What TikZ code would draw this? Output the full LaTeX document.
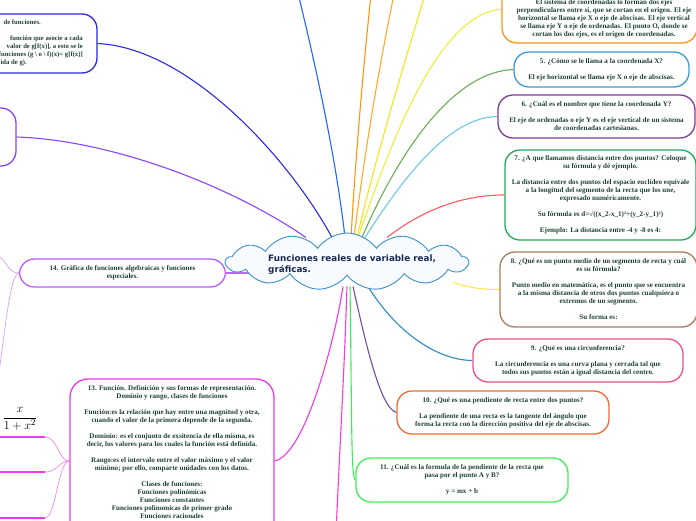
\documentclass[tikz,border=0pt]{standalone}
\usepackage{fontspec}
\setmainfont{Liberation Serif}
\newfontfamily\titlefnt{DejaVu Sans}
\usetikzlibrary{shapes.symbols,calc,backgrounds}
\definecolor{txtc}{HTML}{1F4035}
\definecolor{titc}{HTML}{1B2A55}
\definecolor{cloudb}{HTML}{3A8FCB}
\definecolor{cloudf}{HTML}{F7FBFF}
\definecolor{bComp}{HTML}{2B2BE0}
\definecolor{bViol}{HTML}{8A44FF}
\definecolor{cBlue}{HTML}{2466FF}
\definecolor{cOrA}{HTML}{FF9411}
\definecolor{cOrB}{HTML}{FFAA2B}
\definecolor{cYelA}{HTML}{F5E51A}
\definecolor{cYelB}{HTML}{EEEE3A}
\definecolor{cGrnV}{HTML}{6AAE55}
\definecolor{cLbVI}{HTML}{6DC8EE}
\definecolor{cRedVII}{HTML}{FF5A64}
\definecolor{cYelVIII}{HTML}{FFE94A}
\definecolor{cBluIX}{HTML}{2B8AC9}
\definecolor{cPurX}{HTML}{7A4A9C}
\definecolor{cGrnXI}{HTML}{3AEE55}
\definecolor{cMagXII}{HTML}{FF3ACF}
\definecolor{cMagXIII}{HTML}{EE3AEE}
\definecolor{cVioXIV}{HTML}{C066FF}
\definecolor{bIV}{HTML}{F7941D}
\definecolor{bV}{HTML}{3D9BD4}
\definecolor{bVI}{HTML}{7B3F99}
\definecolor{bVII}{HTML}{1FAA55}
\definecolor{bVIII}{HTML}{A97C5C}
\definecolor{bIX}{HTML}{E8508B}
\definecolor{bX}{HTML}{EE6A3A}
\definecolor{bXI}{HTML}{3CF058}
\definecolor{bXIII}{HTML}{EE3AEE}
\definecolor{bXIV}{HTML}{BD5CFF}
\definecolor{kidXIV}{HTML}{D9A0FF}
\definecolor{kidXIII}{HTML}{F08CF0}
\newcommand\bodyfnt{\bfseries\fontsize{7.1}{8}\selectfont}
\newcommand\compfnt{\bfseries\fontsize{6.7}{8}\selectfont}
\tikzset{
  nbox/.style={draw, line width=1.3pt, rounded corners=15pt, fill=white, inner sep=0pt,
    align=center, font=\bodyfnt, text=txtc},
  btxt/.style={inner sep=0pt, font=\bodyfnt, text=txtc},
  conn/.style={line width=1.1pt},
  kid/.style={line width=0.7pt},
  uline/.style={line width=2pt, cMagXIII},
}
\begin{document}
\begin{tikzpicture}[x=1pt,y=-1pt]
\useasboundingbox (0,0) rectangle (696,520);

% central cloud
\node[cloud, cloud puffs=13, cloud puff arc=110, aspect=4.2, draw=cloudb, fill=cloudf,
      line width=0.9pt, minimum width=242pt, minimum height=57pt, inner sep=0pt] (root) at (347,261.5) {};
\node[font=\titlefnt\bfseries\fontsize{8.8}{11}\selectfont, text=titc, align=left, anchor=west, inner sep=0pt]
  (title) at (268,264.5) {Funciones reales de variable real,\\gráficas.};

% top-left nodes (partly outside)
\node[nbox, draw=bComp, minimum width=202pt, minimum height=59pt] (comp) at (-4,43.5) {};
\node[btxt, font=\compfnt, align=right, anchor=east] (compt) at (83,42.5)
  {de funciones.\hspace*{42pt}\\[8pt]función que asocie a cada\hspace*{15pt}\\valor de g[f(x)], a esto se le\\funciones (g \textbackslash{} o \textbackslash{} f)(x)= g[f(x)]\\ida de g).\hspace*{56pt}};
\node[nbox, draw=bViol, minimum width=116pt, minimum height=58pt] (viol) at (-42,137) {};

% right side nodes
\node[nbox, draw=bIV, minimum width=195pt, minimum height=68pt] (n4) at (599.5,9) {};
\node[btxt, align=center] (n4t) at (604,19)
  {El sistema de coordenadas lo forman dos ejes\\perpendiculares entre sí, que se cortan en el origen. El eje\\horizontal se llama eje X o eje de abscisas. El eje vertical\\se llama eje Y o eje de ordenadas. El punto O, donde se\\cortan los dos ejes, es el origen de coordenadas.};

\node[nbox, draw=bV, minimum width=175pt, minimum height=35pt] (n5) at (601.5,69.5)
  {5. ¿Cómo se le llama a la coordenada X?\\[8pt]El eje horizontal se llama eje X o eje de abscisas.};

\node[nbox, draw=bVI, minimum width=197pt, minimum height=43pt] (n6) at (596.5,116.5)
  {6. ¿Cuál es el nombre que tiene la coordenada Y?\\[8pt]El eje de ordenadas o eje Y es el eje vertical de un sistema\\de coordenadas cartesianas.};

\node[nbox, draw=bVII, minimum width=191pt, minimum height=90pt] (n7) at (600.5,195)
  {7. ¿A que llamamos distancia entre dos puntos? Coloque\\su fórmula y dé ejemplo.\\[8pt]La distancia entre dos puntos del espacio euclídeo equivale\\a la longitud del segmento de la recta que los une,\\expresado numéricamente.\\[8pt]Su fórmula es d=√((x\_2-x\_1)²+(y\_2-y\_1)²)\\[8pt]Ejemplo: La distancia entre -4 y -8 es 4:};

\node[nbox, draw=bVIII, minimum width=197pt, minimum height=75pt] (n8) at (598.5,289.5)
  {8. ¿Qué es un punto medio de un segmento de recta y cuál\\es su fórmula?\\[8pt]Punto medio en matemática, es el punto que se encuentra\\a la misma distancia de otros dos puntos cualquiera o\\extremos de un segmento.\\[8pt]Su forma es:};

\node[nbox, draw=bIX, minimum width=210pt, minimum height=43pt] (n9) at (578,360.5)
  {9. ¿Qué es una circunferencia?\\[8pt]La circunferencia es una curva plana y cerrada tal que\\todos sus puntos están a igual distancia del centro.};

\node[nbox, draw=bX, minimum width=212pt, minimum height=43pt] (n10) at (503,412.5)
  {10. ¿Qué es una pendiente de recta entre dos puntos?\\[8pt]La pendiente de una recta es la tangente del ángulo que\\forma la recta con la dirección positiva del eje de abscisas.};

\node[nbox, draw=bXI, minimum width=212pt, minimum height=44pt] (n11) at (462,480)
  {11. ¿Cuál es la formula de la pendiente de la recta que\\pasa por el punto A y B?\\[8pt]y = mx + b};

% left side nodes
\node[nbox, draw=bXIV, minimum width=206pt, minimum height=28pt] (n14) at (122.5,273)
  {14. Gráfica de funciones algebraicas y funciones\\especiales.};

\node[nbox, draw=bXIII, rounded corners=18pt, minimum width=204pt, minimum height=164pt] (n13) at (172,461) {};
\node[btxt, align=center, anchor=north] (n13t) at (172,385.5)
  {13. Función. Definición y sus formas de representación.\\Dominio y rango, clases de funciones\\[8pt]Función:es la relación que hay entre una magnitud y otra,\\cuando el valor de la primera depende de la segunda.\\[8pt]Dominio: es el conjunto de exsitencia de ella misma, es\\decir, los valores para los cuales la función está definida.\\[8pt]Rango:es el intervalo entre el valor máximo y el valor\\mínimo; por ello, comparte unidades con los datos.\\[8pt]Clases de funciones:\\Funciones polinómicas\\Funciones constantes\\Funciones polinomicas de primer grado\\Funciones racionales};

% children of 13 (underlined nodes)
\node[inner sep=0pt, font=\fontsize{13}{15}\selectfont] (k1) at (20,419) {$\displaystyle\frac{x}{1+x^2}$};
\coordinate (k1s) at (-5,437); \coordinate (k1e) at (45,437);
\coordinate (k2s) at (-5,472); \coordinate (k2e) at (45,472);
\coordinate (k3s) at (-5,518); \coordinate (k3e) at (45,518);
% free ends off the picture
\coordinate (up1) at (296,-15);
\coordinate (up2) at (372,-15);
\coordinate (up3) at (396,-15);
\coordinate (up4) at (428,-15);
\coordinate (dn12) at (336,535);
\coordinate (l14a) at (-4,254);
\coordinate (l14b) at (-2,380);

\begin{scope}[on background layer]
\fill[white] (0,0) rectangle (696,520);
% top connectors
\draw[conn, bViol] (viol.east) .. controls (110,140) and (230,185) .. ($(root.center)+(-41,-24)$);
\draw[conn, bComp] (comp.east) .. controls (190,48) and (290,160) .. ($(root.center)+(-15,-24)$);
\draw[conn, cBlue] ($(root.center)+(-2,-24)$) .. controls (335,150) and (312,50) .. (up1);
\draw[conn, cOrA] ($(root.center)+(4,-24)$) .. controls (356,150) and (364,60) .. (up2);
\draw[conn, cOrB] ($(root.center)+(7,-24)$) .. controls (365,150) and (380,60) .. (up3);
\draw[conn, cYelA] ($(root.center)+(10,-24)$) .. controls (375,160) and (405,60) .. (up4);
\draw[conn, cYelB] ($(root.center)+(11,-24)$) .. controls (395,130) and (440,15) .. (n4.west);
\draw[conn, cGrnV] ($(root.center)+(15,-24)$) .. controls (395,160) and (450,72) .. (n5.west);
\draw[conn, cLbVI] ($(root.center)+(18,-24)$) .. controls (405,175) and (450,117) .. (n6.west);
\draw[conn, cRedVII] ($(root.center)+(40,-24)$) .. controls (425,208) and (465,195) .. (n7.west);
% right / bottom connectors
\draw[conn, cYelVIII] ($(root.center)+(106,21)$) .. controls (475,289) and (485,289.5) .. (n8.west);
\draw[conn, cBluIX] ($(root.center)+(21,25)$) .. controls (395,330) and (435,360) .. (n9.west);
\draw[conn, cPurX] ($(root.center)+(6,25)$) .. controls (365,340) and (380,408) .. (n10.west);
\draw[conn, cGrnXI] ($(root.center)+(3,25)$) .. controls (352,420) and (351,480) .. (n11.west);
\draw[conn, cMagXII] ($(root.center)+(0,25)$) .. controls (344,380) and (339,460) .. (dn12);
\draw[conn, cMagXIII] ($(root.center)+(-4,25)$) .. controls (335,340) and (305,455) .. (n13.east);
\draw[conn, cVioXIV] ($(root.center)+(-98,11.5)$) -- (n14.east);
% children of 14
\draw[kid, kidXIV] (n14.west) .. controls (8,273) and (8,262) .. (l14a);
\draw[kid, kidXIV] (n14.west) .. controls (10,275) and (5,330) .. (l14b);
% children of 13
\draw[kid, kidXIII] (n13.west) .. controls (58,461) and (58,437) .. (k1e);
\draw[kid, kidXIII] (n13.west) .. controls (58,461) and (58,472) .. (k2e);
\draw[kid, kidXIII] (n13.west) .. controls (58,461) and (56,518) .. (k3e);
\end{scope}
\draw[uline] (k1s) -- (k1e);
\draw[uline] (k2s) -- (k2e);
\draw[uline] (k3s) -- (k3e);
\end{tikzpicture}
\end{document}
